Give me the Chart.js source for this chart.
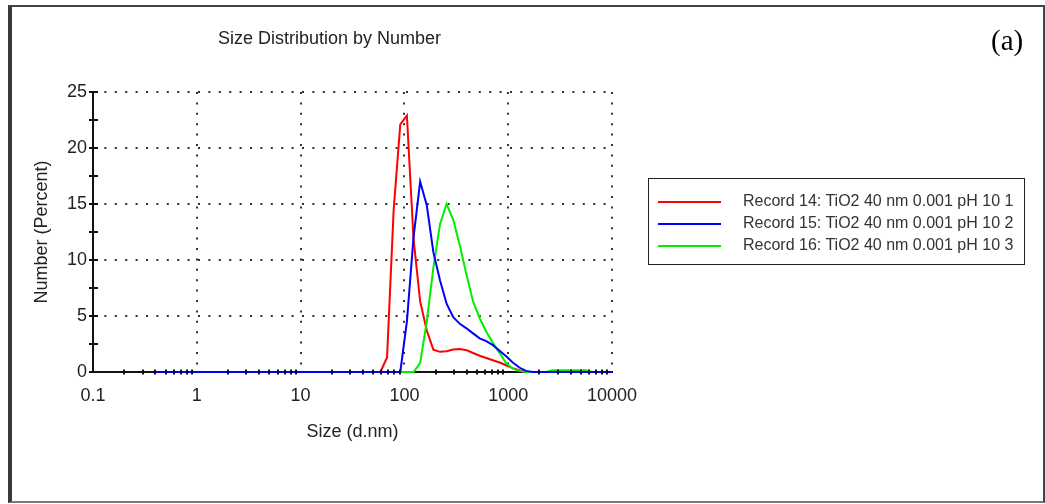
<!DOCTYPE html>
<html>
<head>
<meta charset="utf-8">
<script src="https://cdn.jsdelivr.net/npm/chart.js@4.4.0/dist/chart.umd.min.js"></script>
<style>
  html, body { margin: 0; padding: 0; background: #fff; overflow: hidden; }
  #wrap { position: relative; width: 1045px; height: 504px; }
  #frame { position: absolute; left: 8px; top: 5px; width: 1037px; height: 498px; box-sizing: border-box;
           border-left: 4px solid #3a3a3a; border-top: 2px solid #444; border-right: 2px solid #444; border-bottom: 2px solid #777; }
  #title { position: absolute; left: 218px; top: 29px; width: 222px; text-align: center; white-space: nowrap;
           font: 18px 'Liberation Sans', Arial, sans-serif; line-height: 18px; color: #222; }
  #tag { position: absolute; left: 991px; top: 26px; font: 29px 'Liberation Serif', 'Times New Roman', serif; line-height: 29px; color: #000; }
  #legend { position: absolute; left: 648px; top: 178px; width: 377px; height: 87px; box-sizing: border-box;
            border: 1.5px solid #222; background: #fff; }
  .row { position: absolute; left: 0; height: 20px; width: 100%; }
  .row .ln { position: absolute; left: 9px; top: 9px; width: 63px; height: 2px; }
  .row .tx { position: absolute; left: 94px; top: 0; line-height: 20px; font: 16px 'Liberation Sans', Arial, sans-serif; color: #333; white-space: nowrap; }
</style>
</head>
<body>
<div id="wrap">
  <canvas id="chart" width="1045" height="504"></canvas>
  <div id="frame"></div>
  <div id="title">Size Distribution by Number</div>
  <div id="tag">(a)</div>
  <div id="legend"></div>
</div>
<script>
// size classes (d.nm)
var sizes = [0.4, 0.4632, 0.5365, 0.6213, 0.7195, 0.8332, 0.9649, 1.117, 1.294, 1.499,
  1.736, 2.01, 2.328, 2.696, 3.122, 3.615, 4.187, 4.849, 5.615, 6.503,
  7.531, 8.721, 10.1, 11.7, 13.54, 15.69, 18.17, 21.04, 24.36, 28.21,
  32.67, 37.84, 43.82, 50.75, 58.77, 68.06, 78.82, 91.28, 105.7, 122.4,
  141.8, 164.2, 190.1, 220.2, 255.0, 295.3, 342.0, 396.1, 458.7, 531.2,
  615.1, 712.4, 825.0, 955.4, 1106, 1281, 1484, 1718, 1990, 2305,
  2669, 3091, 3580, 4145, 4801, 5560, 6439, 7456, 8635, 10000];

var record14 = [0, 0, 0, 0, 0, 0, 0, 0, 0, 0,
  0, 0, 0, 0, 0, 0, 0, 0, 0, 0,
  0, 0, 0, 0, 0, 0, 0, 0, 0, 0,
  0, 0, 0, 0, 0, 1.3, 14.5, 22.1, 22.9, 11.9,
  6.3, 3.7, 2.0, 1.8, 1.85, 2.0, 2.05, 1.95, 1.7, 1.45,
  1.25, 1.05, 0.85, 0.6, 0.35, 0.15, 0, 0, 0, 0,
  0, 0, 0, 0, 0, 0, 0, 0, 0, 0];

var record15 = [0, 0, 0, 0, 0, 0, 0, 0, 0, 0,
  0, 0, 0, 0, 0, 0, 0, 0, 0, 0,
  0, 0, 0, 0, 0, 0, 0, 0, 0, 0,
  0, 0, 0, 0, 0, 0, 0, 0, 4.5, 12.0,
  17.0, 14.9, 10.7, 8.2, 6.1, 4.9, 4.3, 3.9, 3.45, 3.0,
  2.75, 2.4, 1.9, 1.4, 0.85, 0.4, 0.1, 0, 0, 0,
  0, 0, 0, 0, 0, 0, 0, 0, 0, 0];

var record16 = [0, 0, 0, 0, 0, 0, 0, 0, 0, 0,
  0, 0, 0, 0, 0, 0, 0, 0, 0, 0,
  0, 0, 0, 0, 0, 0, 0, 0, 0, 0,
  0, 0, 0, 0, 0, 0, 0, 0, 0, 0,
  0.8, 4.5, 9.3, 13.2, 15.0, 13.6, 11.3, 8.7, 6.3, 4.8,
  3.6, 2.6, 1.7, 0.8, 0.3, 0.1, 0, 0, 0, 0,
  0.15, 0.15, 0.15, 0.15, 0.15, 0.15, 0, 0, 0, 0];

var seriesNames = ['Record 14: TiO2 40 nm 0.001 pH 10 1',
  'Record 15: TiO2 40 nm 0.001 pH 10 2',
  'Record 16: TiO2 40 nm 0.001 pH 10 3'];
var seriesColors = ['#ff0000', '#0000ff', '#00ee00'];

var xTickValues = [0.1, 1, 10, 100, 1000, 10000];
var xTickLabels = ['0.1', '1', '10', '100', '1000', '10000'];
var yTickValues = [0, 5, 10, 15, 20, 25];

function points(vals) {
  return sizes.map(function (s, i) { return { x: s, y: vals[i] }; });
}

// small axis ticks, drawn over the curves
var axisTicks = {
  id: 'axisTicks',
  afterDatasetsDraw: function (chart) {
    var ctx = chart.ctx, a = chart.chartArea, x = chart.scales.x, y = chart.scales.y;
    ctx.save();
    ctx.strokeStyle = '#111';
    ctx.lineWidth = 2;
    ctx.beginPath();
    for (var i = 0; i < xTickValues.length - 1; i++) {
      for (var m = 2; m <= 9; m++) {
        var px = Math.round(x.getPixelForValue(xTickValues[i] * m));
        ctx.moveTo(px, a.bottom - 2.5);
        ctx.lineTo(px, a.bottom + 2.5);
      }
    }
    for (var v = 0; v <= 25; v += 2.5) {
      var py = Math.round(y.getPixelForValue(v));
      ctx.moveTo(a.left - 4, py);
      ctx.lineTo(a.left + 5, py);
    }
    ctx.stroke();
    ctx.restore();
  }
};

var chart = new Chart(document.getElementById('chart'), {
  type: 'line',
  data: {
    datasets: [{
      label: seriesNames[0], data: points(record14),
      borderColor: seriesColors[0], order: 2, clip: false
    }, {
      label: seriesNames[1], data: points(record15),
      borderColor: seriesColors[1], order: 0, clip: false
    }, {
      label: seriesNames[2], data: points(record16),
      borderColor: seriesColors[2], order: 1, clip: false
    }]
  },
  options: {
    responsive: false,
    animation: false,
    devicePixelRatio: 1,
    layout: { padding: { left: 0, top: 92, right: 433, bottom: 0 } },
    elements: {
      point: { radius: 0 },
      line: { borderWidth: 2, tension: 0, fill: false }
    },
    plugins: { legend: { display: false }, title: { display: false }, tooltip: { enabled: false } },
    scales: {
      x: {
        type: 'logarithmic',
        min: 0.1, max: 10000,
        afterBuildTicks: function (s) { s.ticks = xTickValues.map(function (v) { return { value: v }; }); },
        afterFit: function (s) { s.height = 132; },
        ticks: {
          padding: 13,
          color: '#222',
          font: { family: "'Liberation Sans', Arial", size: 18 },
          callback: function (v) { return xTickLabels[xTickValues.indexOf(v)]; }
        },
        grid: { color: '#333', lineWidth: 2, drawTicks: false },
        border: { display: true, color: '#111', width: 2, dash: [2, 8.4] },
        title: {
          display: true, text: 'Size (d.nm)', color: '#222',
          font: { family: "'Liberation Sans', Arial", size: 18 },
          padding: { top: 0, bottom: 61 }
        }
      },
      y: {
        min: 0, max: 25,
        afterBuildTicks: function (s) { s.ticks = yTickValues.map(function (v) { return { value: v }; }); },
        afterFit: function (s) { s.width = 93; },
        ticks: {
          padding: 6,
          color: '#222',
          font: { family: "'Liberation Sans', Arial", size: 18 }
        },
        grid: { color: '#333', lineWidth: 2, drawTicks: false },
        border: { display: true, color: '#111', width: 2, dash: [2, 8.4] },
        title: {
          display: true, text: 'Number (Percent)', color: '#222',
          font: { family: "'Liberation Sans', Arial", size: 18 },
          padding: { top: 31, bottom: 0 }
        }
      }
    }
  },
  plugins: [axisTicks]
});

// legend box from the chart's datasets
var legend = document.getElementById('legend');
chart.data.datasets.forEach(function (ds, i) {
  var row = document.createElement('div');
  row.className = 'row';
  row.style.top = (13 + i * 22) + 'px';
  row.innerHTML = '<div class="ln" style="background:' + ds.borderColor + '"></div><div class="tx"></div>';
  row.querySelector('.tx').textContent = ds.label;
  legend.appendChild(row);
});
</script>
</body>
</html>
